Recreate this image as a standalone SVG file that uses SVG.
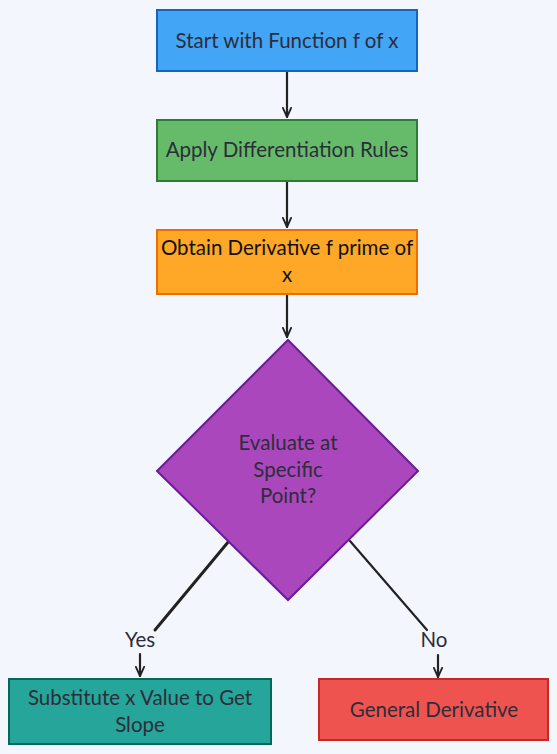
<svg xmlns="http://www.w3.org/2000/svg" width="557" height="754" viewBox="0 0 557 754">
<defs>
<marker id="arr" viewBox="0 0 12 12" refX="11" refY="6" markerWidth="11" markerHeight="11" markerUnits="userSpaceOnUse" orient="auto">
<path d="M1,1.5 L11,6 L1,10.5" fill="none" stroke="#222" stroke-width="2" stroke-linecap="round" stroke-linejoin="round"/>
</marker>
<style>
text{font-family:Lato,"Open Sans","Noto Sans",sans-serif;font-size:20.5px;fill:#2d2d3a;text-anchor:middle}
.edge{fill:none;stroke:#222;stroke-width:2.2;stroke-linecap:round}
.node rect,.node polygon{stroke-width:2}
</style>
</defs>
<rect width="557" height="754" fill="#f3f7fd"/>
<g id="connectors">
<path class="edge" d="M287,71 L287,117" marker-end="url(#arr)"/>
<path class="edge" d="M287,181 L287,227" marker-end="url(#arr)"/>
<path class="edge" d="M287,294 L287,337" marker-end="url(#arr)"/>
<path class="edge" d="M229,541 L155,630" style="stroke-width:3"/>
<path class="edge" d="M140,654 L140,676" marker-end="url(#arr)"/>
<path class="edge" d="M350,541 L427,630"/>
<path class="edge" d="M438,655 L438,677" marker-end="url(#arr)"/>
<text x="140" y="647">Yes</text>
<text x="434" y="647">No</text>
</g>
<g id="start" class="node">
<rect x="157" y="10" width="260" height="61" fill="#42a5f5" stroke="#1565c0"/>
<text x="287" y="48">Start with Function f of x</text>
</g>
<g id="apply" class="node">
<rect x="157" y="120" width="260" height="61" fill="#66bb6a" stroke="#2e7d32"/>
<text x="287" y="157">Apply Differentiation Rules</text>
</g>
<g id="obtain" class="node">
<rect x="157" y="230" width="260" height="64" fill="#ffa726" stroke="#ef6c00"/>
<text x="287" y="255" style="fill:#111">Obtain Derivative f prime of</text>
<text x="287" y="282" style="fill:#111">x</text>
</g>
<g id="evaluate" class="node">
<polygon points="288,340 418,471 288,600 157,471" fill="#ab47bc" stroke="#6a1b9a"/>
<text x="288" y="450">Evaluate at</text>
<text x="288" y="477">Specific</text>
<text x="288" y="503">Point?</text>
</g>
<g id="substitute" class="node">
<rect x="9" y="679" width="262" height="65" fill="#26a69a" stroke="#00695c"/>
<text x="140" y="705">Substitute x Value to Get</text>
<text x="140" y="732">Slope</text>
</g>
<g id="general" class="node">
<rect x="319" y="679" width="229" height="61" fill="#ef5350" stroke="#c62828"/>
<text x="434" y="717">General Derivative</text>
</g>
</svg>
